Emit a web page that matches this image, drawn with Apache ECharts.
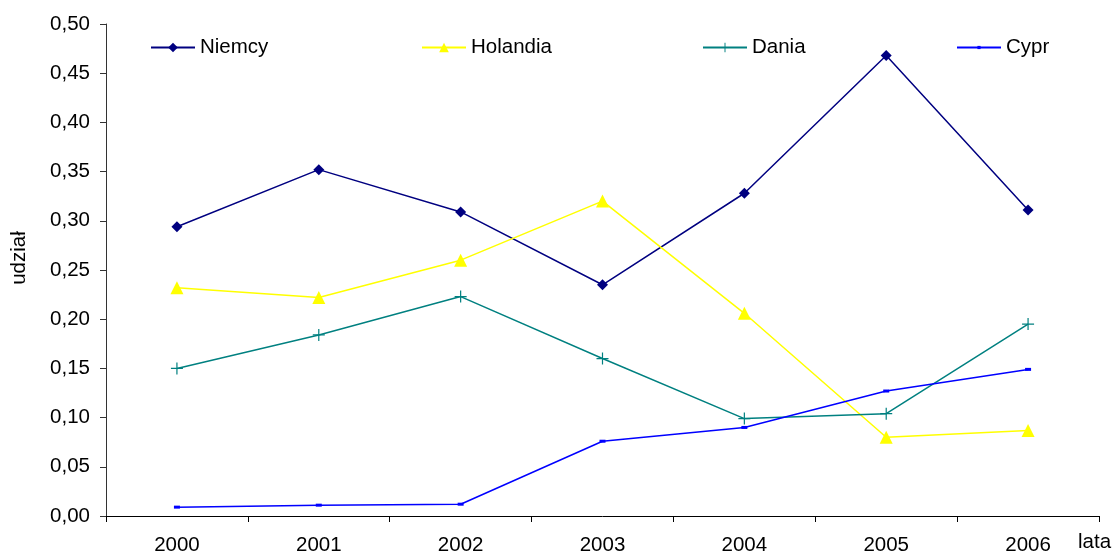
<!DOCTYPE html>
<html><head><meta charset="utf-8">
<script src="https://cdn.jsdelivr.net/npm/echarts@6/dist/echarts.min.js"></script>
<style>html,body{margin:0;padding:0;background:#fff}#c{width:1113px;height:552px}</style>
</head><body><div id="c"></div>
<script>
var years = ['2000','2001','2002','2003','2004','2005','2006'];
var niemcy = [0.294, 0.352, 0.309, 0.235, 0.328, 0.468, 0.311];
var holandia = [0.232, 0.222, 0.260, 0.320, 0.206, 0.080, 0.087];
var dania = [0.150, 0.184, 0.223, 0.160, 0.099, 0.104, 0.195];
var cypr = [0.009, 0.011, 0.012, 0.076, 0.090, 0.127, 0.149];
var yTicks = [0, 0.05, 0.10, 0.15, 0.20, 0.25, 0.30, 0.35, 0.40, 0.45, 0.50];

var FONT = 'Liberation Sans, Arial, sans-serif';
var FS = 20.5;
var plus = 'path://M-1,-10 H1 V-1 H10 V1 H1 V10 H-1 V1 H-10 V-1 H-1 Z';

function legend(name, left, ih) {
  return {
    data: [name], left: left, top: 37, padding: 0, itemWidth: 44, itemHeight: ih, itemGap: 0,
    textStyle: { fontFamily: FONT, fontSize: FS, color: '#000' }
  };
}

var chart = echarts.init(document.getElementById('c'), null, { renderer: 'canvas' });
chart.setOption({
  animation: false,
  backgroundColor: '#fff',
  textStyle: { fontFamily: FONT },
  legend: [legend('Niemcy', 150, 12), legend('Holandia', 421, 12), legend('Dania', 702, 12), legend('Cypr', 956, 4)],
  grid: { left: 106, right: 14, top: 24, bottom: 36, containLabel: false, outerBoundsMode: 'none' },
  xAxis: {
    type: 'category', data: years, boundaryGap: true,
    name: 'lata', nameLocation: 'end', nameGap: -21,
    nameTextStyle: { fontFamily: FONT, fontSize: FS, color: '#000', align: 'left', verticalAlign: 'top', padding: [16, 0, 0, 0] },
    axisLine: { lineStyle: { color: '#000', width: 1 } },
    axisTick: { show: true, alignWithLabel: false, length: 6, lineStyle: { color: '#000' } },
    axisLabel: { fontFamily: FONT, fontSize: FS, color: '#000', margin: 19 },
    splitLine: { show: false }
  },
  yAxis: {
    type: 'value', min: 0, max: 0.5, interval: 0.05,
    name: 'udział', nameLocation: 'middle', nameGap: 76, nameRotate: 90,
    nameTextStyle: { fontFamily: FONT, fontSize: FS, color: '#000', padding: [0, 0, 0, 24] },
    axisLine: { show: true, lineStyle: { color: '#333', width: 1 } },
    axisTick: { show: true, length: 6, lineStyle: { color: '#333' } },
    axisLabel: { fontFamily: FONT, fontSize: FS, color: '#000', margin: 16,
      formatter: function (v) {
        var t = yTicks.reduce(function (a, b) { return Math.abs(b - v) < Math.abs(a - v) ? b : a; });
        return t.toFixed(2).replace('.', ',');
      } },
    splitLine: { show: false }
  },
  series: [
    { name: 'Niemcy', type: 'line', data: niemcy, symbol: 'diamond', symbolSize: 11,
      lineStyle: { color: '#000080', width: 1.5 }, itemStyle: { color: '#000080' } },
    { name: 'Holandia', type: 'line', data: holandia, symbol: 'triangle', symbolSize: 13,
      lineStyle: { color: '#FFFF00', width: 1.5 }, itemStyle: { color: '#FFFF00' } },
    { name: 'Dania', type: 'line', data: dania, symbol: plus, symbolSize: 12,
      lineStyle: { color: '#008080', width: 1.5 }, itemStyle: { color: '#008080' } },
    { name: 'Cypr', type: 'line', data: cypr, symbol: 'rect', symbolSize: [6, 3],
      lineStyle: { color: '#0000FF', width: 1.5 }, itemStyle: { color: '#0000FF' } }
  ]
});
</script></body></html>
